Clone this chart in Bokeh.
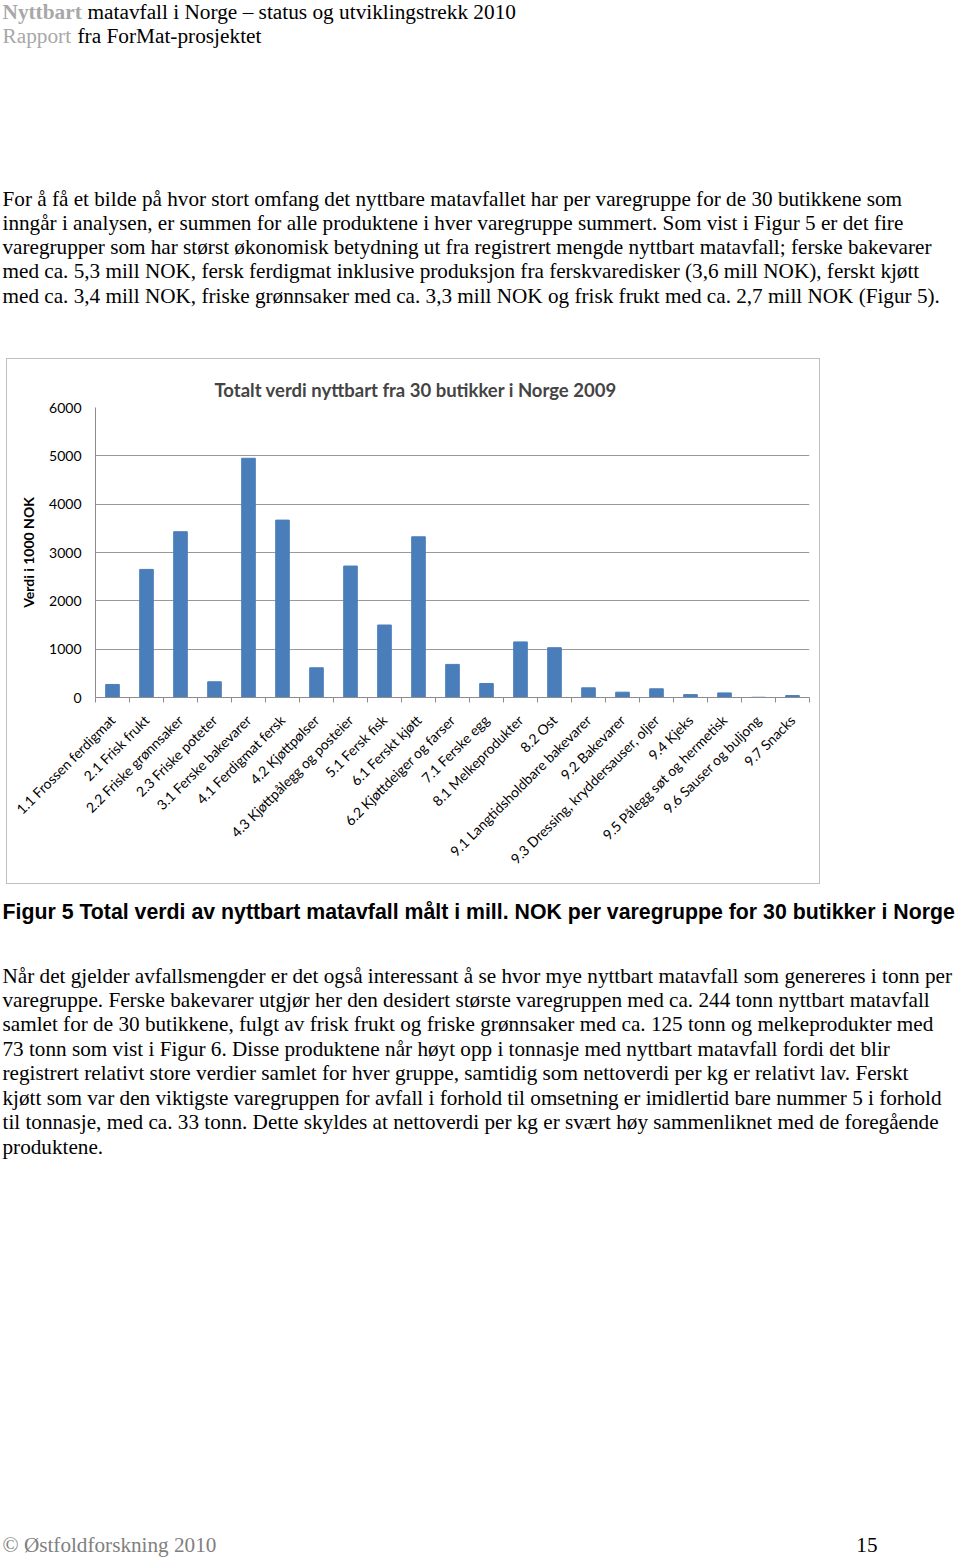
import math
from bokeh.plotting import figure
from bokeh.layouts import column, row
from bokeh.models import (Range1d, LinearAxis, FixedTicker, Label, Spacer,
                          ColumnDataSource, CustomJSTickFormatter)
from bokeh.embed import file_html
from bokeh.resources import INLINE

# ---------------- data ----------------
categories = [
    "1.1 Frossen ferdigmat", "2.1 Frisk frukt", "2.2 Friske grønnsaker", "2.3 Friske poteter",
    "3.1 Ferske bakevarer", "4.1 Ferdigmat fersk", "4.2 Kjøttpølser", "4.3 Kjøttpålegg og posteier",
    "5.1 Fersk fisk", "6.1 Ferskt kjøtt", "6.2 Kjøttdeiger og farser", "7.1 Ferske egg",
    "8.1 Melkeprodukter", "8.2 Ost", "9.1 Langtidsholdbare bakevarer", "9.2 Bakevarer",
    "9.3 Dressing, kryddersauser, oljer", "9.4 Kjeks", "9.5 Pålegg søt og hermetisk",
    "9.6 Sauser og buljong", "9.7 Snacks",
]
values = [270, 2650, 3430, 325, 4950, 3670, 615, 2720, 1500, 3325, 685, 290,
          1150, 1030, 200, 110, 180, 60, 95, 5, 40]
y_ticks = [0, 1000, 2000, 3000, 4000, 5000, 6000]

chart_title = "Totalt verdi nyttbart fra 30 butikker i Norge 2009"
y_label = "Verdi i 1000 NOK"

header1 = ("Nyttbart", "matavfall i Norge – status og utviklingstrekk 2010")
header2 = ("Rapport", "fra ForMat-prosjektet")
para1 = [
    "For å få et bilde på hvor stort omfang det nyttbare matavfallet har per varegruppe for de 30 butikkene som",
    "inngår i analysen, er summen for alle produktene i hver varegruppe summert.  Som vist i Figur 5 er det fire",
    "varegrupper som har størst økonomisk betydning ut fra registrert mengde nyttbart matavfall; ferske bakevarer",
    "med ca. 5,3 mill NOK, fersk ferdigmat inklusive produksjon fra ferskvaredisker (3,6 mill NOK),  ferskt kjøtt",
    "med ca. 3,4 mill NOK, friske grønnsaker med ca. 3,3 mill NOK og frisk frukt med ca. 2,7 mill NOK (Figur 5).",
]
caption = "Figur 5  Total verdi av nyttbart matavfall målt i mill. NOK per varegruppe for 30 butikker i Norge"
para2 = [
    "Når det gjelder avfallsmengder er det også interessant å se hvor mye nyttbart matavfall som genereres i tonn per",
    "varegruppe.  Ferske bakevarer utgjør her den desidert største varegruppen med ca. 244 tonn nyttbart matavfall",
    "samlet for de 30 butikkene, fulgt av frisk frukt og friske grønnsaker med ca. 125 tonn og melkeprodukter med",
    "73 tonn som vist i Figur 6.  Disse produktene når høyt opp i tonnasje med nyttbart matavfall fordi det blir",
    "registrert relativt store verdier samlet for hver gruppe, samtidig som nettoverdi per kg er relativt lav.  Ferskt",
    "kjøtt som var den viktigste varegruppen for avfall i forhold til omsetning er imidlertid bare nummer 5 i forhold",
    "til tonnasje, med ca. 33 tonn.  Dette skyldes at nettoverdi per kg er svært høy sammenliknet med de foregående",
    "produktene.",
]
footer_left = "© Østfoldforskning 2010"
footer_right = "15"

# ---------------- layout constants (page pixels) ----------------
W, H = 960, 1560
BOX_L, BOX_R, BOX_T, BOX_B = 6, 822, 358, 886
FL, FR, FT, FB = 95, 809, 407, 697

CHART_FONT = "Lato"
SERIF = "Liberation Serif"
GRID = "#999999"
AXIS = "#8c8c8c"
BAR = "#4a7ebb"
BODY = 21.2
GRAY_HDR = "#a8a8a8"


def text_fig(y0, y1):
    f = figure(width=W, height=y1 - y0, x_range=Range1d(0, W), y_range=Range1d(y1, y0),
               output_backend="svg", toolbar_location=None, x_axis_location=None,
               y_axis_location=None, min_border=0)
    f.grid.visible = False
    f.outline_line_color = None
    f.background_fill_color = "white"
    f.border_fill_color = "white"
    return f


def txt(f, px, py, text, font=SERIF, size=BODY, color="black", style="normal", align="left"):
    f.add_layout(Label(x=px, y=py, text=text, text_font=font, text_font_size=f"{size}px",
                       text_color=color, text_font_style=style, text_align=align,
                       text_baseline="alphabetic"))


# ---------- top text ----------
top = text_fig(0, BOX_T)
txt(top, 2, 11, header1[0], size=21.3, color=GRAY_HDR, style="bold")
txt(top, 87, 11, header1[1], size=21.3)
txt(top, 2, 35, header2[0], size=21.3, color=GRAY_HDR)
txt(top, 77, 35, header2[1], size=21.3)
for i, line in enumerate(para1):
    txt(top, 2, 198 + 24.3 * i, line)

# ---------- chart ----------
n = len(categories)
idx = list(range(n))
cw, ch = BOX_R - BOX_L - 2, BOX_B - BOX_T - 2
p = figure(width=cw, height=ch, x_range=Range1d(-0.5, n - 0.5), y_range=Range1d(0, 6000),
           output_backend="svg", toolbar_location=None, x_axis_location=None,
           y_axis_location="left",
           min_border_left=FL - BOX_L - 1, min_border_right=BOX_R - FR - 1,
           min_border_top=FT - BOX_T - 1, min_border_bottom=BOX_B - FB - 1,
           styles={"border": "1px solid #bfbfbf"})
p.outline_line_color = None
p.background_fill_color = "white"
p.border_fill_color = "white"
p.xgrid.visible = False
p.ygrid.grid_line_color = GRID
p.ygrid.ticker = FixedTicker(ticks=y_ticks)

p.title.text = chart_title
p.title.text_font = CHART_FONT
p.title.text_font_size = "18.5px"
p.title.text_font_style = "bold"
p.title.align = "left"
p.title.offset = 214 - FL
p.title.standoff = 10
p.title.vertical_align = "top"

src = ColumnDataSource(dict(x=idx, val=values, cat=categories))
p.vbar(x="x", top="val", width=0.4, source=src, fill_color=BAR, line_color=BAR)

ya = p.yaxis[0]
ya.ticker = FixedTicker(ticks=y_ticks)
ya.axis_line_color = AXIS
ya.major_tick_out = 0
ya.major_tick_in = 0
ya.minor_tick_out = 0
ya.minor_tick_in = 0
ya.major_label_standoff = 14
ya.major_label_text_font = CHART_FONT
ya.major_label_text_font_size = "14px"
ya.major_label_text_color = "black"
ya.axis_label = y_label
ya.axis_label_text_font = CHART_FONT
ya.axis_label_text_font_size = "14px"
ya.axis_label_text_font_style = "bold"
ya.axis_label_text_color = "black"
ya.axis_label_standoff = 9

tick_axis = LinearAxis(ticker=FixedTicker(ticks=[i - 0.5 for i in range(n + 1)]),
                       formatter=CustomJSTickFormatter(code="return ''"),
                       axis_line_color=AXIS, major_tick_line_color=AXIS,
                       major_tick_out=5, major_tick_in=0, minor_tick_out=0, minor_tick_in=0,
                       major_label_text_font_size="0px", major_label_standoff=0)
cat_axis = LinearAxis(ticker=FixedTicker(ticks=idx),
                      formatter=CustomJSTickFormatter(
                          args=dict(names=categories),
                          code="const i = Math.round(tick); return (i >= 0 && i < names.length) ? names[i] : '';"),
                      axis_line_color=None, major_tick_line_color=None, minor_tick_line_color=None,
                      major_label_orientation=math.pi / 4, major_label_standoff=9,
                      major_label_text_font=CHART_FONT, major_label_text_font_size="14px",
                      major_label_text_color="black")
p.add_layout(tick_axis, "below")
p.add_layout(cat_axis, "below")

chart_row = row(Spacer(width=BOX_L, height=ch + 2), p, spacing=0)

# ---------- bottom text ----------
bot = text_fig(BOX_B, H)
txt(bot, 2, 911, caption, font="Liberation Sans", size=21.3, style="bold")
for i, line in enumerate(para2):
    txt(bot, 2, 975 + 24.45 * i, line)
txt(bot, 2, 1544, footer_left, color="#808080")
txt(bot, 877, 1544, footer_right, align="right")

page = column(top, chart_row, bot, spacing=0)

open("out.html", "w").write(file_html(page, INLINE))
